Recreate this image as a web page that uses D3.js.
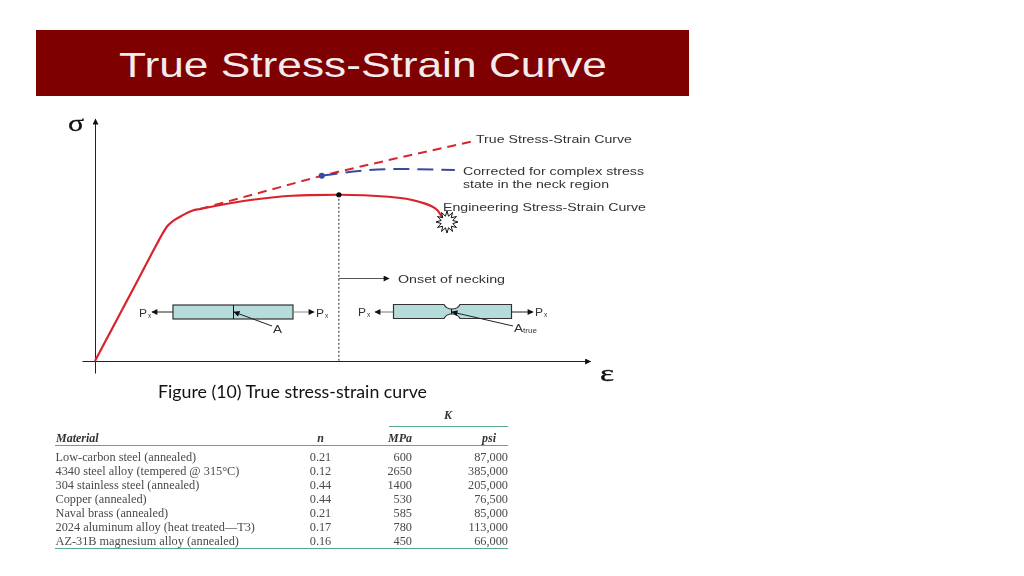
<!DOCTYPE html>
<html>

<head>
    <meta charset="UTF-8">
    <style>
        body {
            margin: 0;
            background: white;
        }

        svg {
            display: block;
            filter: blur(0.35px);
        }

        .label {
            font-family: "Liberation Sans", sans-serif;
            fill: #333;
        }

        .cell {
            font-family: "Liberation Serif", serif;
            font-size: 12.3px;
            fill: #4a4a4a;
        }

        .head {
            font-family: "Liberation Serif", serif;
            font-size: 12px;
            font-weight: bold;
            font-style: italic;
            fill: #333;
        }
    </style>
</head>

<body>
    <svg></svg>
    <script src="https://d3js.org/d3.v7.min.js"></script>

    <script>
        // curves (strain, stress in arbitrary units as the axes have no ticks)
        const engStrain = [0, 4, 8, 12, 13, 13.9, 15, 16.6, 18.8, 20.2, 29.9, 37.9, 46.9, 56.5, 62.3, 65.8, 66.9];
        const engStress = [0, 15.7, 31.4, 47.2, 51, 53.9, 56, 58, 60.2, 60.8, 64.4, 66.1, 66.5, 65.7, 63.7, 60.4, 56.8];
        const trueStrain = [20.2, 43.6, 47.6, 58.2, 72.3];
        const trueStress = [60.8, 74.1, 76.1, 81.2, 87.7];
        const corrStrain = [43.6, 47.6, 58.2, 69.2];
        const corrStress = [74.1, 75.3, 76.8, 76.4];
        const neckStrain = 46.9, neckStress = 66.5;

        // table
        const materials = ["Low-carbon steel (annealed)", "4340 steel alloy (tempered @ 315°C)", "304 stainless steel (annealed)",
            "Copper (annealed)", "Naval brass (annealed)", "2024 aluminum alloy (heat treated—T3)", "AZ-31B magnesium alloy (annealed)"];
        const nValues = ["0.21", "0.12", "0.44", "0.44", "0.21", "0.17", "0.16"];
        const kMpa = ["600", "2650", "1400", "530", "585", "780", "450"];
        const kPsi = ["87,000", "385,000", "205,000", "76,500", "85,000", "113,000", "66,000"];

        let width = 1024, height = 576;

        let svg = d3.select("svg")
            .attr("width", width)
            .attr("height", height)
            .attr("viewBox", "0 0 " + width + " " + height);

        let x = d3.scaleLinear().domain([0, 100]).range([95, 615]);
        let y = d3.scaleLinear().domain([0, 100]).range([361, 111]);

        let defs = svg.append("defs");
        defs.append("marker")
            .attr("id", "end")
            .attr("viewBox", "0 -5 10 10")
            .attr("refX", 9)
            .attr("markerUnits", "userSpaceOnUse")
            .attr("markerWidth", 7)
            .attr("markerHeight", 6)
            .attr("orient", "auto")
            .append("path")
            .attr("d", "M0,-5L10,0L0,5Z")
            .attr("fill", "#111");

        // small helper, the source picture is stretched so the text widths get forced
        function label(str, px, py, size, len) {
            let t = svg.append("text")
                .attr("class", "label")
                .attr("x", px)
                .attr("y", py)
                .style("font-size", size + "px")
                .text(str);
            if (len) t.attr("textLength", len).attr("lengthAdjust", "spacingAndGlyphs");
            return t;
        }

        function arrow(x1, y1, x2, y2, color) {
            svg.append("line")
                .attr("x1", x1).attr("y1", y1)
                .attr("x2", x2).attr("y2", y2)
                .attr("stroke", color || "#222")
                .attr("stroke-width", 1)
                .attr("marker-end", "url(#end)");
        }

        // title band
        svg.append("rect")
            .attr("x", 36).attr("y", 30)
            .attr("width", 653).attr("height", 66)
            .attr("fill", "#7f0000");
        label("True Stress-Strain Curve", 119, 77, 35, 488).style("fill", "#f4ecec");

        // axes
        let axisX = d3.axisBottom(x).tickValues([]).tickSizeOuter(0);
        let axisY = d3.axisLeft(y).tickValues([]).tickSizeOuter(0);
        svg.append("g")
            .attr("transform", "translate(0," + y(0) + ")")
            .call(axisX.scale(x.copy().domain([-2.5, 95.2]).range([x(-2.5), x(95.2)])))
            .select(".domain").attr("stroke", "#222").attr("marker-end", "url(#end)");
        svg.append("g")
            .attr("transform", "translate(" + x(0) + ",0)")
            .call(axisY.scale(y.copy().domain([-4.8, 97]).range([y(-4.8), y(97)])))
            .select(".domain").attr("stroke", "#222").attr("marker-end", "url(#end)");

        svg.append("text").attr("x", 68).attr("y", 131)
            .attr("textLength", 16).attr("lengthAdjust", "spacingAndGlyphs")
            .style("font-family", "Liberation Serif").style("font-size", "23px")
            .attr("fill", "#111").attr("stroke", "#111").attr("stroke-width", 0.3).text("σ");
        svg.append("text").attr("x", 600).attr("y", 381)
            .attr("textLength", 14).attr("lengthAdjust", "spacingAndGlyphs")
            .style("font-family", "Liberation Serif").style("font-size", "24px")
            .attr("fill", "#111").attr("stroke", "#111").attr("stroke-width", 0.4).text("ε");

        // curves
        let line = d3.line().x(d => x(d[0])).y(d => y(d[1]));

        svg.append("path")
            .datum(d3.zip(trueStrain, trueStress))
            .attr("d", line)
            .attr("fill", "none")
            .attr("stroke", "#d6262e")
            .attr("stroke-width", 2)
            .attr("stroke-dasharray", "9,6");

        svg.append("path")
            .datum(d3.zip(corrStrain, corrStress))
            .attr("d", line.curve(d3.curveMonotoneX))
            .attr("fill", "none")
            .attr("stroke", "#3c4a9c")
            .attr("stroke-width", 2)
            .attr("stroke-dasharray", "16,8");

        svg.append("path")
            .datum(d3.zip(engStrain, engStress))
            .attr("d", line.curve(d3.curveMonotoneX))
            .attr("fill", "none")
            .attr("stroke", "#d9232b")
            .attr("stroke-width", 2.2);

        svg.append("circle")
            .attr("cx", x(corrStrain[0])).attr("cy", y(corrStress[0]))
            .attr("r", 3).attr("fill", "#3c4a9c");
        svg.append("circle")
            .attr("cx", x(neckStrain)).attr("cy", y(neckStress))
            .attr("r", 2.6).attr("fill", "#000");

        // dotted line at necking
        svg.append("line")
            .attr("x1", x(neckStrain)).attr("x2", x(neckStrain))
            .attr("y1", y(neckStress)).attr("y2", y(0))
            .attr("stroke", "#222")
            .attr("stroke-dasharray", "2,2");

        // fracture burst at the end of the curve
        let burstR = d3.range(24).map(i => i % 2 ? 6 : 11);
        svg.append("path")
            .attr("transform", "translate(447,222)")
            .attr("d", d3.lineRadial().angle((d, i) => i / 24 * 2 * Math.PI).radius(d => d).curve(d3.curveLinearClosed)(burstR))
            .attr("fill", "white")
            .attr("stroke", "#111")
            .attr("stroke-width", 1);

        label("True Stress-Strain Curve", 476, 143, 11.5, 156);
        label("Corrected for complex stress", 463, 175, 11.5, 181);
        label("state in the neck region", 463, 188, 11.5, 146);
        label("Engineering Stress-Strain Curve", 443, 211, 11.5, 203);

        arrow(339, 278.5, 389, 278.5, "#555");
        label("Onset of necking", 398, 283, 11.5, 107);

        // specimens
        svg.append("rect")
            .attr("x", 173).attr("y", 305)
            .attr("width", 120).attr("height", 14)
            .attr("fill", "#b5dcdb")
            .attr("stroke", "#333")
            .attr("stroke-width", 1.2);
        svg.append("line")
            .attr("x1", 233.5).attr("x2", 233.5)
            .attr("y1", 305).attr("y2", 319)
            .attr("stroke", "#111");

        let neck = d3.path();
        neck.moveTo(393.5, 304.5);
        neck.lineTo(444, 304.5);
        neck.bezierCurveTo(445.5, 307.5, 448, 309, 452, 309);
        neck.bezierCurveTo(456, 309, 458.5, 307.5, 460, 304.5);
        neck.lineTo(511.5, 304.5);
        neck.lineTo(511.5, 318.5);
        neck.lineTo(460, 318.5);
        neck.bezierCurveTo(458.5, 315.5, 456, 314, 452, 314);
        neck.bezierCurveTo(448, 314, 445.5, 315.5, 444, 318.5);
        neck.lineTo(393.5, 318.5);
        neck.closePath();
        svg.append("path")
            .attr("d", neck.toString())
            .attr("fill", "#b5dcdb")
            .attr("stroke", "#333")
            .attr("stroke-width", 1.2);
        svg.append("line")
            .attr("x1", 451.5).attr("x2", 451.5)
            .attr("y1", 309).attr("y2", 314)
            .attr("stroke", "#111");

        arrow(173, 312, 152, 312);
        arrow(293, 312, 314, 312, "#888");
        arrow(393, 312, 375, 312, "#777");
        arrow(512, 312, 533, 312);
        arrow(272, 326, 234, 312);
        arrow(513, 326, 452, 312);

        [[139, 317], [316, 317], [358, 316], [535, 316]].forEach(p => {
            label("P", p[0], p[1], 11.5, 8);
            label("x", p[0] + 9, p[1] + 1, 6.5);
        });
        label("A", 273, 333, 11.5, 9);
        label("A", 514, 332, 11.5, 9);
        label("true", 523, 333, 6.5, 14);

        // caption
        svg.append("text")
            .attr("x", 158).attr("y", 398)
            .attr("textLength", 269)
            .attr("lengthAdjust", "spacingAndGlyphs")
            .style("font-family", "Lato")
            .style("font-size", "17px")
            .attr("fill", "#111")
            .text("Figure (10) True stress-strain curve");

        // table
        let rowY = d3.scalePoint().domain(materials).range([461.3, 544.7]);

        let table = svg.append("g");
        let rule = (x1, x2, py) => table.append("line")
            .attr("x1", x1).attr("x2", x2).attr("y1", py).attr("y2", py)
            .attr("stroke", "#5aa896").attr("stroke-width", 1.2);
        rule(389, 508, 426.5);
        rule(55, 508, 445.5);
        rule(55, 508, 548.5);

        let head = (str, px, py, anchor) => table.append("text")
            .attr("class", "head")
            .attr("x", px).attr("y", py)
            .attr("text-anchor", anchor)
            .text(str);
        head("K", 448, 419, "middle");
        head("Material", 56, 442, "start");
        head("n", 320.5, 442, "middle");
        head("MPa", 412, 442, "end");
        head("psi", 489, 442, "middle");

        let column = (values, px, anchor) => table.append("g")
            .selectAll("text")
            .data(values)
            .enter()
            .append("text")
            .attr("class", "cell")
            .attr("x", px)
            .attr("y", (d, i) => rowY(materials[i]))
            .attr("text-anchor", anchor)
            .text(d => d);
        column(materials, 55.5, "start");
        column(nValues, 320.5, "middle");
        column(kMpa, 412, "end");
        column(kPsi, 508, "end");
    </script>

</body>

</html>
